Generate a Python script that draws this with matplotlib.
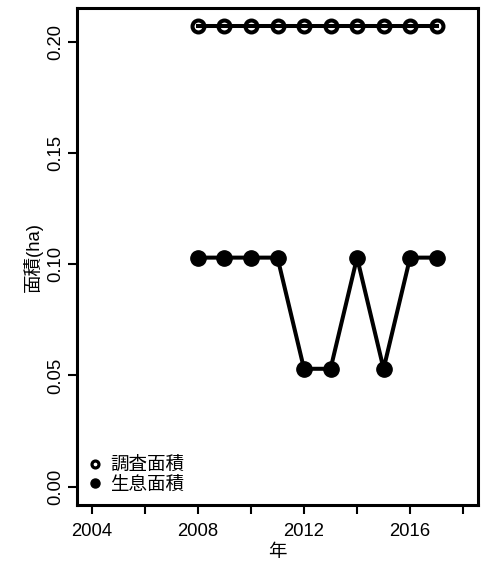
import numpy as np
import matplotlib
matplotlib.use("Agg")
import matplotlib.pyplot as plt

plt.rcParams['font.family'] = ['Liberation Sans', 'Noto Sans CJK JP', 'DejaVu Sans']

# データ
years = [2008, 2009, 2010, 2011, 2012, 2013, 2014, 2015, 2016, 2017]
survey_area = [0.207, 0.207, 0.207, 0.207, 0.207, 0.207, 0.207, 0.207, 0.207, 0.207]
habitat_area = [0.103, 0.103, 0.103, 0.103, 0.053, 0.053, 0.103, 0.053, 0.103, 0.103]
xticks = [2004, 2006, 2008, 2010, 2012, 2014, 2016, 2018]
xlabels = ["2004", "", "2008", "", "2012", "", "2016", ""]
yticks = [0.00, 0.05, 0.10, 0.15, 0.20]

fig = plt.figure(figsize=(4.88, 5.67), dpi=100)
ax = fig.add_axes((0.1578, 0.1093, 0.8217, 0.8766))

ax.plot(years, survey_area, color='k', lw=2.9, marker='o', ms=8.6,
        mfc='none', mec='k', mew=2.9, label='調査面積', clip_on=False)
ax.plot(years, habitat_area, color='k', lw=2.9, marker='o', ms=11,
        mfc='k', mec='k', label='生息面積', clip_on=False)

# R風の軸範囲 (4%拡張)
ax.set_xlim(2004 - 0.56, 2018 + 0.56)
ax.set_ylim(-0.00828, 0.207 + 0.00828)

ax.set_xticks(xticks)
ax.set_xticklabels(xlabels, fontsize=13.3)
ax.set_yticks(yticks)
ax.set_yticklabels(["%.2f" % t for t in yticks], fontsize=13.3,
                   rotation=90, va='center')
ax.tick_params(direction='out', length=6.5, width=1.5)
ax.tick_params(axis='x', pad=6.5)
ax.tick_params(axis='y', pad=3)

for s in ax.spines.values():
    s.set_linewidth(2.2)

ax.set_xlabel('年', fontsize=13.3, labelpad=3)
ax.set_ylabel('面積(ha)', fontsize=13.3, labelpad=3)

# 凡例 (枠なし)
h1 = plt.Line2D([], [], ls='none', marker='o', ms=5, mfc='white', mec='k', mew=2.3)
h2 = plt.Line2D([], [], ls='none', marker='o', ms=6.5, mfc='k', mec='k')
ax.legend([h1, h2], ['調査面積', '生息面積'], loc='lower left', frameon=False,
          fontsize=13.3, handlelength=0.8, handletextpad=0.4,
          labelspacing=0.15, borderaxespad=0.3, borderpad=0.3)

plt.savefig('out.png', dpi=100)
plt.close()
